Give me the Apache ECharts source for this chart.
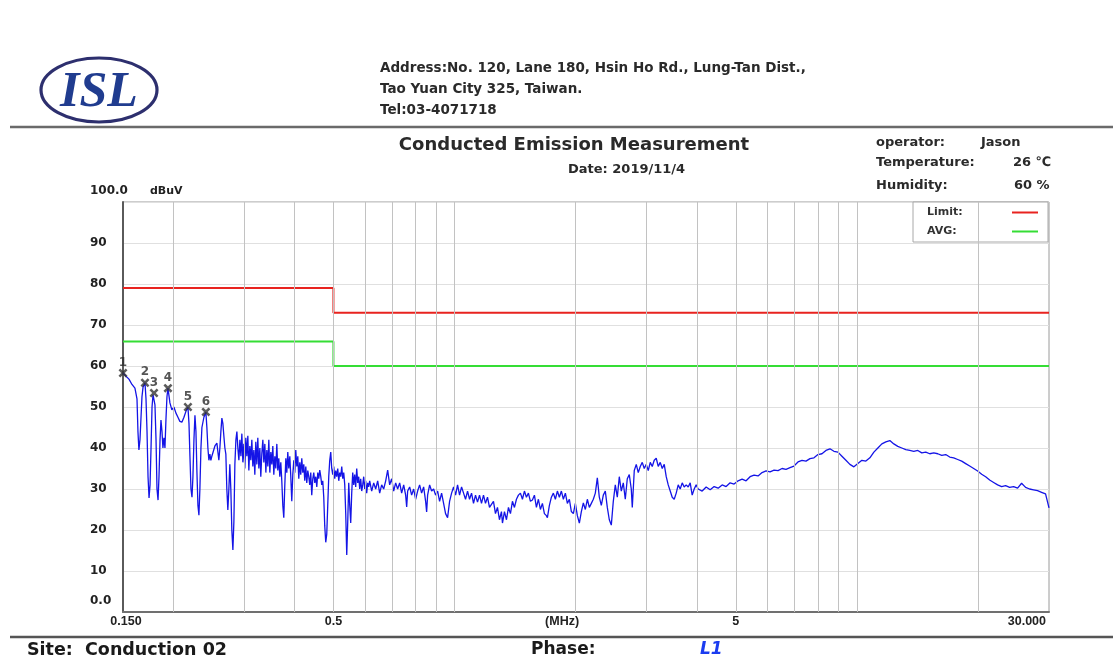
<!DOCTYPE html>
<html>
<head>
<meta charset="utf-8">
<title>Conducted Emission Measurement</title>
<script src="https://cdn.jsdelivr.net/npm/echarts@6/dist/echarts.min.js"></script>
<style>
  html, body { margin: 0; padding: 0; background: #fff; }
  #chart { width: 1113px; height: 657px; }
</style>
</head>
<body>
<div id="chart"></div>
<script>
// ---- Data ---------------------------------------------------------------
// Frequency axis (MHz) ticks and their printed labels
const xTickFreqs  = [0.15, 0.5, 1.85, 5, 30];
const xTickLabels = ['0.150', '0.5', '(MHz)', '5', '30.000'];
// Level axis (dBuV) ticks and labels
const yTicks      = [0, 10, 20, 30, 40, 50, 60, 70, 80, 90, 100];
const yTickLabels = ['0.0', '10', '20', '30', '40', '50', '60', '70', '80', '90', '100.0'];
// Vertical grid frequencies (MHz)
const gridFreqs = [0.2, 0.3, 0.4, 0.5, 0.6, 0.7, 0.8, 0.9, 1, 2, 3, 4, 5, 6, 7, 8, 9, 10, 20];

// Limit lines [MHz, dBuV]
const limitQP  = [[0.15, 79], [0.5, 79], [0.5, 73], [30, 73]];
const limitAVG = [[0.15, 66], [0.5, 66], [0.5, 60], [30, 60]];

// Marked peaks
const markerNo    = ['1', '2', '3', '4', '5', '6'];
const markerFreq  = [0.1500, 0.1701, 0.1791, 0.1940, 0.2175, 0.2410];
const markerLevel = [58.3, 55.9, 53.4, 54.6, 50.0, 48.8];

// Measured spectrum, phase L1 [MHz, dBuV]
const traceL1 = [
  [0.1500,58.3],[0.1526,57.5],[0.1552,56.8],[0.1579,55.5],[0.1606,54.6],[0.1625,52.0],[0.1634,44.0],[0.1643,39.5],
  [0.1653,42.0],[0.1662,47.0],[0.1672,52.5],[0.1682,54.8],[0.1701,55.9],[0.1711,52.0],[0.1721,44.0],[0.1731,33.0],
  [0.1741,27.8],[0.1751,31.0],[0.1761,40.0],[0.1771,50.0],[0.1781,53.0],[0.1791,53.4],[0.1801,50.5],[0.1812,42.0],
  [0.1822,30.0],[0.1833,27.3],[0.1843,33.0],[0.1854,42.0],[0.1864,46.8],[0.1875,44.0],[0.1885,40.0],[0.1896,42.5],
  [0.1907,40.0],[0.1918,47.0],[0.1929,52.5],[0.1940,54.6],[0.1962,51.0],[0.1984,49.3],[0.2007,50.0],[0.2031,48.5],
  [0.2054,47.5],[0.2077,46.5],[0.2101,46.3],[0.2126,47.5],[0.2151,49.0],[0.2175,50.0],[0.2188,46.0],[0.2200,38.0],
  [0.2213,30.0],[0.2226,28.0],[0.2238,33.0],[0.2251,42.0],[0.2264,48.0],[0.2277,44.0],[0.2290,34.0],[0.2303,26.0],
  [0.2316,23.6],[0.2329,30.0],[0.2343,40.0],[0.2356,45.0],[0.2383,47.5],[0.2410,48.8],[0.2424,45.0],[0.2438,40.0],
  [0.2452,37.0],[0.2466,38.5],[0.2480,37.0],[0.2494,38.0],[0.2509,37.8],[0.2538,40.5],[0.2567,41.2],[0.2582,39.0],
  [0.2596,37.0],[0.2611,40.0],[0.2626,44.0],[0.2641,47.3],[0.2656,46.0],[0.2671,43.0],[0.2687,40.0],[0.2702,38.5],
  [0.2717,30.0],[0.2733,24.9],[0.2749,30.0],[0.2764,36.0],[0.2780,30.0],[0.2796,20.0],[0.2813,15.1],[0.2829,22.0],
  [0.2845,36.0],[0.2862,42.0],[0.2878,44.0],[0.2894,40.0],[0.2911,37.0],[0.2928,42.0],
  [0.2945,38.0],[0.2961,43.5],[0.2978,36.5],[0.2995,41.0],[0.3012,35.0],[0.3029,42.5],[0.3047,38.0],[0.3064,43.0],
  [0.3082,34.5],[0.3099,40.5],[0.3117,37.0],[0.3135,42.0],[0.3153,35.5],[0.3171,39.5],[0.3189,33.5],[0.3207,41.5],
  [0.3226,36.0],[0.3244,42.5],[0.3263,35.0],[0.3282,40.0],[0.3300,33.0],[0.3319,38.5],[0.3339,42.0],[0.3358,36.5],
  [0.3377,41.0],[0.3397,34.0],[0.3416,39.5],[0.3436,35.5],[0.3455,42.0],[0.3475,34.0],[0.3495,39.0],[0.3515,36.0],
  [0.3535,40.5],[0.3555,33.5],[0.3576,38.0],[0.3596,35.0],[0.3617,41.0],[0.3637,34.5],[0.3658,37.5],[0.3679,33.0],
  [0.3700,36.5],[0.3721,32.0],[0.3743,26.0],[0.3764,23.0],[0.3786,31.0],[0.3808,37.5],[0.3829,34.0],[0.3851,39.0],
  [0.3873,35.0],[0.3896,38.0],[0.3918,33.0],[0.3940,27.0],[0.3963,33.5],[0.3986,37.0],[0.4009,34.0],[0.4031,39.5],
  [0.4055,35.5],[0.4078,38.0],[0.4101,32.5],[0.4125,36.5],
  [0.4148,33.5],[0.4172,37.5],[0.4196,34.0],[0.4220,36.0],[0.4244,32.0],[0.4269,35.5],[0.4293,31.5],[0.4318,34.5],
  [0.4342,33.0],[0.4367,31.0],[0.4392,34.0],[0.4417,28.5],[0.4443,32.5],[0.4468,34.0],[0.4494,31.5],[0.4520,33.0],
  [0.4546,30.5],[0.4572,34.0],[0.4598,32.5],[0.4624,34.6],[0.4651,33.0],[0.4677,31.0],[0.4704,32.0],[0.4731,28.0],
  [0.4758,21.0],[0.4785,17.0],[0.4813,19.0],[0.4840,26.0],[0.4868,33.0],[0.4896,37.0],[0.4924,39.0],[0.4952,35.0],
  [0.4981,33.5],[0.5010,35.5],[0.5038,32.5],[0.5067,34.5],[0.5096,33.0],[0.5125,35.0],[0.5155,32.0],[0.5184,34.0],
  [0.5214,33.0],[0.5244,35.5],[0.5274,32.5],[0.5304,34.0],[0.5335,31.0],[0.5365,24.0],[0.5396,13.9],[0.5427,22.0],
  [0.5458,31.5],[0.5489,26.0],[0.5520,21.7],[0.5552,29.0],[0.5584,34.0],[0.5616,31.0],[0.5648,33.5],[0.5680,30.5],
  [0.5713,35.0],[0.5746,31.5],[0.5779,33.0],[0.5812,30.0],[0.5845,32.5],[0.5879,29.5],[0.5912,31.0],[0.5946,33.0],
  [0.5980,30.0],[0.6014,32.0],[0.6049,29.0],[0.6083,31.5],[0.6118,30.5],[0.6153,32.0],
  [0.6224,29.5],[0.6296,31.5],[0.6368,30.0],[0.6441,32.0],[0.6515,29.0],[0.6590,31.0],[0.6666,30.0],[0.6743,32.0],
  [0.6820,34.6],[0.6898,31.0],[0.6977,32.5],[0.7058,29.5],[0.7139,31.5],[0.7221,30.0],[0.7304,31.5],[0.7388,29.0],
  [0.7474,31.0],[0.7559,28.5],[0.7603,25.6],[0.7646,29.5],[0.7734,30.5],[0.7823,28.5],[0.7912,30.0],[0.8003,27.5],
  [0.8095,29.5],[0.8188,31.0],[0.8282,29.0],[0.8378,30.5],[0.8474,27.0],[0.8523,24.4],[0.8571,28.5],[0.8670,31.0],
  [0.8769,29.5],[0.8871,30.0],[0.8972,28.5],[0.9075,29.5],[0.9180,27.0],[0.9285,29.0],[0.9392,26.5],[0.9499,24.0],
  [0.9609,23.0],[0.9719,27.0],
  [0.9831,29.0],[0.9944,30.5],[1.0058,28.5],[1.0173,31.0],[1.0290,28.5],[1.0409,30.5],[1.0528,29.0],[1.0649,27.5],
  [1.0771,29.5],[1.0895,27.5],[1.1020,29.0],[1.1145,26.5],[1.1274,28.5],[1.1403,26.8],[1.1534,28.5],[1.1667,26.5],
  [1.1800,28.5],[1.1936,26.5],[1.2073,28.0],[1.2212,25.5],[1.2352,25.6],[1.2493,27.0],[1.2637,24.0],[1.2782,25.5],
  [1.2929,22.5],[1.3077,24.5],[1.3153,21.7],[1.3304,24.5],[1.3457,22.5],[1.3612,25.5],[1.3768,24.0],[1.3926,27.0],
  [1.4086,25.5],[1.4248,27.5],[1.4411,28.5],[1.4577,29.0],[1.4745,27.5],[1.4914,29.5],[1.5086,28.0],[1.5259,29.0],
  [1.5434,27.0],[1.5612,27.3],[1.5791,28.5],[1.5973,25.5],[1.6156,27.5],[1.6342,25.0],[1.6530,26.5],[1.6720,24.0],
  [1.6912,23.5],[1.7009,23.0],[1.7204,26.0],[1.7402,28.0],[1.7602,29.0],[1.7804,27.5],[1.8009,29.5],[1.8216,28.0],
  [1.8425,29.5],[1.8637,27.5],[1.8851,29.0],[1.9068,26.5],[1.9287,27.5],[1.9508,24.5],[1.9733,24.0],[1.9960,26.5],
  [2.0189,23.5],[2.0421,21.7],[2.0656,24.5],[2.0894,26.6],[2.1134,25.0],[2.1377,27.5],[2.1622,25.5],[2.1871,26.5],
  [2.2122,27.5],[2.2376,29.0],[2.2633,32.7],[2.2893,28.0],[2.3156,26.0],[2.3422,28.5],[2.3691,29.5],[2.3964,25.5],
  [2.4239,22.5],[2.4518,21.2],[2.4800,27.0],[2.5085,31.0],[2.5373,28.0],[2.5665,33.0],[2.5960,29.5],[2.6259,31.5],
  [2.6560,27.5],[2.6865,32.5],[2.7174,33.5],[2.7486,30.0],[2.7644,25.5],
  [2.7962,34.5],[2.8283,36.0],[2.8608,34.0],[2.8936,35.5],[2.9270,36.5],[2.9606,35.0],[2.9946,36.0],[3.0290,34.5],
  [3.0638,36.5],[3.0990,35.5],[3.1346,37.0],[3.1706,37.5],[3.2070,35.5],[3.2439,36.5],[3.2814,35.0],[3.3191,36.0],
  [3.3572,33.0],[3.3958,31.0],[3.4348,29.5],[3.4742,28.0],[3.5141,27.5],[3.5545,29.0],[3.5953,31.0],[3.6366,30.0],
  [3.6784,31.5],[3.7207,30.5],[3.7634,31.0],[3.8066,30.5],[3.8503,31.5],[3.8948,28.5],[3.9396,30.0],[3.9848,31.0],
  [4.0306,30.0],
  [4.1238,29.5],[4.2191,30.5],[4.3166,29.8],[4.4163,30.6],[4.5184,30.2],[4.6228,31.0],[4.7296,30.6],[4.8389,31.5],
  [4.9507,31.2],[5.0651,32.0],[5.1822,32.4],[5.3019,32.0],[5.4244,33.0],[5.5498,33.4],[5.6780,33.2],[5.8092,34.0],
  [5.9435,34.4],[6.0808,34.2],[6.2213,34.6],[6.3651,34.5],[6.5122,35.0],[6.6627,34.8],[6.8166,35.2],[6.9741,35.6],
  [7.1353,36.6],[7.3002,37.0],[7.4689,36.8],[7.6415,37.4],[7.8180,37.6],[7.9987,38.4],[8.1835,38.6],[8.3726,39.4],
  [8.5661,39.8],[8.7640,39.2],[8.9665,39.0],[9.1737,38.0],[9.3857,37.0],[9.6026,36.0],[9.8245,35.4],[10.052,36.2],
  [10.284,37.0],[10.522,36.8],[10.765,37.6],[11.014,39.0],[11.268,40.0],[11.528,41.0],[11.795,41.5],[12.067,41.8],
  [12.346,41.0],[12.631,40.4],[12.923,40.0],[13.222,39.6],[13.527,39.4],[13.840,39.2],[14.160,39.4],[14.487,38.8],
  [14.822,39.0],[15.164,38.6],[15.515,38.8],[15.873,38.6],[16.240,38.2],[16.615,38.4],[16.999,37.8],[17.392,37.6],
  [17.794,37.2],[18.205,36.8],[18.626,36.2],[19.056,35.6],[19.497,35.0],[19.947,34.4],[20.408,33.6],[20.880,33.0],
  [21.362,32.2],[21.856,31.6],[22.361,31.0],[22.878,30.6],[23.406,30.8],[23.947,30.4],[24.500,30.6],[25.066,30.2],
  [25.645,31.4],[26.238,30.4],[26.844,30.0],[27.465,29.8],[28.099,29.6],[28.749,29.2],[29.413,28.8],[30.000,25.4]
];

// ---- Styling constants ----------------------------------------------------
const FONT   = '"DejaVu Sans", sans-serif';
const FONT_N = '"Liberation Sans", Arial, sans-serif';
const TEXT   = '#222';
const X_MARK = 'path://M0,2L2,0L5,3L8,0L10,2L7,5L10,8L8,10L5,7L2,10L0,8L3,5Z';

const chart = echarts.init(document.getElementById('chart'), null, { renderer: 'canvas' });

const option = {
  animation: false,
  backgroundColor: '#fff',
  grid: {
    left: 123, top: 202, width: 926, height: 410,
    show: true, borderColor: '#9a9a9a', borderWidth: 1, backgroundColor: 'transparent'
  },
  xAxis: {
    type: 'log', logBase: 10, min: 0.15, max: 30,
    axisLine: { show: true, lineStyle: { color: '#707070', width: 2 } },
    axisTick: { show: false },
    axisLabel: { show: false },
    splitLine: { show: false }
  },
  yAxis: {
    type: 'value', min: 0, max: 100, interval: 10,
    axisLine: { show: true, lineStyle: { color: '#5a5a5a', width: 2 } },
    axisTick: { show: false },
    splitLine: { show: true, lineStyle: { color: '#e0e0e0', width: 1 } },
    axisLabel: {
      align: 'left', margin: 33,
      fontFamily: FONT, fontWeight: 'bold', fontSize: 12, color: TEXT,
      formatter: function (v) {
        const i = yTicks.indexOf(v);
        const t = i >= 0 ? yTickLabels[i] : '';
        if (v === 100) return '{e|' + t + '}{u|dBuV}';
        if (v === 0) return '{e|' + t + '}';
        return t;
      },
      rich: {
        e: { fontFamily: FONT, fontWeight: 'bold', fontSize: 12, color: TEXT, padding: [0, 0, 22, 0] },
        u: { fontFamily: FONT, fontWeight: 'bold', fontSize: 11, color: TEXT, padding: [0, 0, 22, 22] }
      }
    }
  },
  legend: {
    data: ['Limit', 'AVG'],
    orient: 'vertical', left: 913, top: 202,
    align: 'right',
    padding: [5, 10, 5, 14],
    itemGap: 8, itemWidth: 26, itemHeight: 2,
    icon: 'rect',
    selectedMode: false,
    backgroundColor: '#fff', borderColor: '#a8a8a8', borderWidth: 1,
    formatter: function (n) { return '{t|' + n + ':}'; },
    textStyle: {
      fontFamily: FONT, fontWeight: 'bold', fontSize: 11, color: '#333',
      rich: { t: { fontFamily: FONT, fontWeight: 'bold', fontSize: 11, color: '#333', width: 80, align: 'left' } }
    }
  },
  series: [
    {
      name: 'gridV', type: 'line', data: [], silent: true, z: 1,
      markLine: {
        silent: true, symbol: ['none', 'none'], animation: false,
        label: { show: false },
        lineStyle: { color: '#c2c2c2', width: 1, type: 'solid' },
        data: gridFreqs.map(function (f) { return { xAxis: f }; })
      }
    },
    {
      name: 'Limit', type: 'line', data: limitQP, symbol: 'none', z: 3,
      lineStyle: { color: '#e8231f', width: 2 }, itemStyle: { color: '#e8231f' }
    },
    {
      name: 'AVG', type: 'line', data: limitAVG, symbol: 'none', z: 3,
      lineStyle: { color: '#35dd35', width: 2 }, itemStyle: { color: '#35dd35' }
    },
    {
      name: 'L1', type: 'line', data: traceL1, symbol: 'none', z: 4,
      lineStyle: { color: '#1414e6', width: 1.3 }, itemStyle: { color: '#1414e6' }
    },
    {
      name: 'Peaks', type: 'scatter', z: 5,
      data: markerFreq.map(function (f, i) { return [f, markerLevel[i]]; }),
      symbol: X_MARK, symbolSize: 9,
      itemStyle: { color: '#333' },
      label: {
        show: true, position: 'top', distance: 0,
        fontFamily: FONT, fontWeight: 'bold', fontSize: 12, color: '#2a2a2a',
        formatter: function (p) { return markerNo[p.dataIndex]; }
      }
    }
  ]
};

chart.setOption(option);

// ---- Page furniture and frequency labels ------------------------------------
function txt(text, x, y, font, fill, align) {
  return {
    type: 'text', silent: true, z: 10,
    style: { text: text, x: x, y: y, font: font, fill: fill || TEXT,
             textAlign: align || 'left', textVerticalAlign: 'middle' }
  };
}
function hline(y, x1, x2, color, w) {
  return { type: 'line', silent: true, z: 10,
           shape: { x1: x1, y1: y, x2: x2, y2: y },
           style: { stroke: color, lineWidth: w } };
}

const graphics = [
  // company logo
  { type: 'ellipse', silent: true, z: 10,
    shape: { cx: 99, cy: 90, rx: 58, ry: 32 },
    style: { fill: 'none', stroke: '#2d2f6e', lineWidth: 3.2 } },
  txt('ISL', 99, 93, 'italic bold 50px "Liberation Serif", "DejaVu Serif", serif', '#203c8f', 'center'),
  // address block
  txt('Address:No. 120, Lane 180, Hsin Ho Rd., Lung-Tan Dist.,', 380, 68, 'bold 13.5px ' + FONT, '#2a2a2a'),
  txt('Tao Yuan City 325, Taiwan.', 380, 89, 'bold 13.5px ' + FONT, '#2a2a2a'),
  txt('Tel:03-4071718', 380, 110, 'bold 13.5px ' + FONT, '#2a2a2a'),
  hline(127, 10, 1113, '#6a6a6a', 2.5),
  // title block
  txt('Conducted Emission Measurement', 574, 145, 'bold 18px ' + FONT, '#2a2a2a', 'center'),
  txt('Date: 2019/11/4', 568, 170, 'bold 13px ' + FONT, '#2a2a2a'),
  txt('operator:', 876, 143, 'bold 13px ' + FONT, '#2a2a2a'),
  txt('Jason', 981, 143, 'bold 13px ' + FONT, '#2a2a2a'),
  txt('Temperature:', 876, 163, 'bold 13px ' + FONT, '#2a2a2a'),
  txt('26 \u2103', 1013, 163, 'bold 13px ' + FONT, '#2a2a2a'),
  txt('Humidity:', 876, 186, 'bold 13px ' + FONT, '#2a2a2a'),
  txt('60 %', 1014, 186, 'bold 13px ' + FONT, '#2a2a2a'),
  // footer
  hline(637, 10, 1113, '#555', 2.5),
  txt('Site:  Conduction 02', 27, 650, 'bold 17.5px ' + FONT, '#1a1a1a'),
  txt('Phase:', 531, 650, 'bold 17px ' + FONT, '#1a1a1a'),
  txt('L1', 700, 650, 'italic bold 17px ' + FONT, '#1b3cf0')
];

// frequency tick labels placed through the log axis
xTickFreqs.forEach(function (f, i) {
  const px = chart.convertToPixel({ xAxisIndex: 0 }, f);
  const last = i === xTickFreqs.length - 1;
  graphics.push(txt(xTickLabels[i], last ? px - 3 : px + (i === 0 ? 3 : 0), 622,
                    'bold 12.5px ' + FONT_N, TEXT, last ? 'right' : 'center'));
});

chart.setOption({ graphic: graphics });
</script>
</body>
</html>
